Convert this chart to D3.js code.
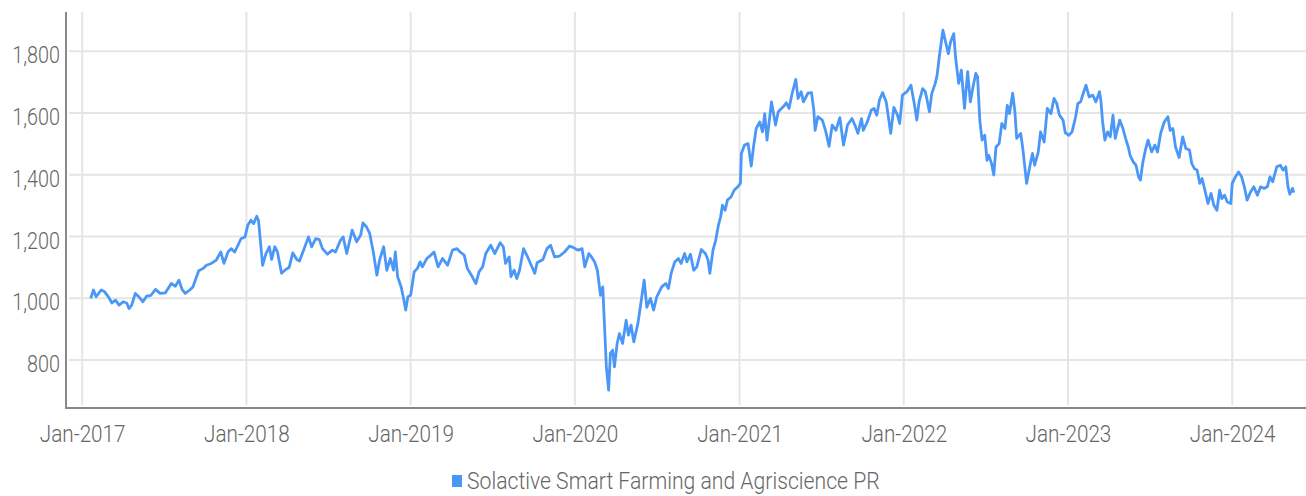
<!DOCTYPE html>
<html>
<head>
<meta charset="utf-8">
<script src="https://cdn.jsdelivr.net/npm/d3@7"></script>
<style>
  html, body { margin: 0; padding: 0; background: #fff; }
  svg { display: block; }
  text { font-family: Roboto, "Noto Sans", sans-serif; fill: #666; }
</style>
</head>
<body>
<svg id="chart" width="1306" height="496"></svg>
<script>
'use strict';

var seriesName = 'Solactive Smart Farming and Agriscience PR';

var series2017 = [
  ['2017-01-20', 1000], ['2017-01-26', 1027], ['2017-02-01', 1005], ['2017-02-12', 1027],
  ['2017-02-20', 1021], ['2017-03-01', 1003], ['2017-03-08', 985], ['2017-03-16', 994],
  ['2017-03-24', 978], ['2017-04-02', 989], ['2017-04-10', 985], ['2017-04-15', 967],
  ['2017-04-21', 978], ['2017-04-29', 1016], ['2017-05-07', 1005], ['2017-05-16', 989],
  ['2017-05-24', 1007], ['2017-06-03', 1010], ['2017-06-13', 1029], ['2017-06-23', 1016],
  ['2017-07-05', 1018], ['2017-07-18', 1048], ['2017-07-27', 1039], ['2017-08-04', 1059],
  ['2017-08-11', 1029], ['2017-08-18', 1016], ['2017-08-28', 1027], ['2017-09-04', 1037],
  ['2017-09-17', 1089], ['2017-09-27', 1097], ['2017-10-04', 1107], ['2017-10-15', 1113],
  ['2017-10-26', 1124], ['2017-11-05', 1150], ['2017-11-12', 1113], ['2017-11-21', 1150],
  ['2017-11-28', 1161], ['2017-12-06', 1150], ['2017-12-20', 1193], ['2017-12-29', 1199]
];

var series2018 = [
  ['2018-01-04', 1237], ['2018-01-11', 1253], ['2018-01-17', 1242], ['2018-01-24', 1266],
  ['2018-01-28', 1251], ['2018-02-06', 1107], ['2018-02-13', 1143], ['2018-02-21', 1167],
  ['2018-02-26', 1126], ['2018-03-05', 1167], ['2018-03-11', 1150], ['2018-03-20', 1081],
  ['2018-03-30', 1094], ['2018-04-06', 1100], ['2018-04-14', 1147], ['2018-04-23', 1126],
  ['2018-04-29', 1121], ['2018-05-08', 1156], ['2018-05-19', 1199], ['2018-05-26', 1167],
  ['2018-06-04', 1193], ['2018-06-12', 1190], ['2018-06-19', 1161], ['2018-06-30', 1143],
  ['2018-07-11', 1156], ['2018-07-18', 1150], ['2018-07-29', 1188], ['2018-08-04', 1199],
  ['2018-08-12', 1145], ['2018-08-24', 1221], ['2018-09-03', 1183], ['2018-09-12', 1205],
  ['2018-09-17', 1244], ['2018-09-25', 1231], ['2018-10-02', 1210], ['2018-10-10', 1150],
  ['2018-10-18', 1075], ['2018-10-24', 1124], ['2018-11-02', 1167], ['2018-11-09', 1091],
  ['2018-11-17', 1129], ['2018-11-24', 1091], ['2018-11-28', 1150], ['2018-12-03', 1070],
  ['2018-12-11', 1037], ['2018-12-17', 994], ['2018-12-21', 962], ['2018-12-26', 1005]
];

var series2019 = [
  ['2019-01-01', 1010], ['2019-01-09', 1086], ['2019-01-16', 1097], ['2019-01-22', 1118],
  ['2019-01-27', 1102], ['2019-02-06', 1129], ['2019-02-15', 1140], ['2019-02-22', 1150],
  ['2019-03-03', 1102], ['2019-03-13', 1129], ['2019-03-24', 1107], ['2019-04-04', 1156],
  ['2019-04-14', 1161], ['2019-04-21', 1150], ['2019-04-30', 1140], ['2019-05-07', 1097],
  ['2019-05-16', 1075], ['2019-05-26', 1048], ['2019-06-02', 1086], ['2019-06-10', 1102],
  ['2019-06-17', 1145], ['2019-06-28', 1172], ['2019-07-07', 1145], ['2019-07-19', 1180],
  ['2019-07-26', 1167], ['2019-07-31', 1113], ['2019-08-08', 1134], ['2019-08-12', 1070],
  ['2019-08-19', 1091], ['2019-08-25', 1064], ['2019-08-31', 1091], ['2019-09-09', 1161],
  ['2019-09-18', 1134], ['2019-09-26', 1107], ['2019-10-04', 1081], ['2019-10-09', 1115],
  ['2019-10-22', 1126], ['2019-10-31', 1161], ['2019-11-08', 1172], ['2019-11-17', 1134],
  ['2019-11-28', 1137], ['2019-12-09', 1150], ['2019-12-20', 1169], ['2019-12-28', 1165]
];

var series2020 = [
  ['2020-01-08', 1156], ['2020-01-17', 1161], ['2020-01-23', 1102], ['2020-02-01', 1145],
  ['2020-02-07', 1134], ['2020-02-14', 1118], ['2020-02-20', 1091], ['2020-02-27', 1010],
  ['2020-03-03', 1037], ['2020-03-07', 908], ['2020-03-11', 778], ['2020-03-16', 703],
  ['2020-03-20', 822], ['2020-03-25', 832], ['2020-03-29', 778], ['2020-04-04', 854],
  ['2020-04-09', 886], ['2020-04-16', 854], ['2020-04-24', 929], ['2020-04-29', 881],
  ['2020-05-05', 913], ['2020-05-11', 859], ['2020-05-20', 918], ['2020-05-25', 967],
  ['2020-06-03', 1059], ['2020-06-09', 971], ['2020-06-17', 1000], ['2020-06-24', 962],
  ['2020-07-01', 1005], ['2020-07-12', 1037], ['2020-07-21', 1048], ['2020-07-27', 1032],
  ['2020-08-02', 1081], ['2020-08-10', 1118], ['2020-08-18', 1129], ['2020-08-24', 1113],
  ['2020-09-01', 1145], ['2020-09-06', 1118], ['2020-09-14', 1143], ['2020-09-21', 1091],
  ['2020-09-28', 1102], ['2020-10-08', 1158], ['2020-10-17', 1145], ['2020-10-23', 1124],
  ['2020-10-27', 1081], ['2020-11-03', 1156], ['2020-11-09', 1188], ['2020-11-15', 1237],
  ['2020-11-20', 1264], ['2020-11-24', 1302], ['2020-11-30', 1285], ['2020-12-05', 1318],
  ['2020-12-13', 1328], ['2020-12-20', 1350], ['2020-12-28', 1361]
];

var series2021 = [
  ['2021-01-03', 1372], ['2021-01-05', 1469], ['2021-01-12', 1496], ['2021-01-20', 1501],
  ['2021-01-27', 1428], ['2021-02-01', 1490], ['2021-02-07', 1550], ['2021-02-15', 1571],
  ['2021-02-21', 1539], ['2021-02-26', 1598], ['2021-03-03', 1512], ['2021-03-13', 1636],
  ['2021-03-22', 1561], ['2021-03-28', 1604], ['2021-04-08', 1620], ['2021-04-15', 1633],
  ['2021-04-21', 1615], ['2021-04-28', 1664], ['2021-05-06', 1709], ['2021-05-11', 1647],
  ['2021-05-18', 1669], ['2021-05-23', 1636], ['2021-06-02', 1664], ['2021-06-10', 1666],
  ['2021-06-15', 1610], ['2021-06-18', 1544], ['2021-06-24', 1588], ['2021-07-04', 1577],
  ['2021-07-11', 1544], ['2021-07-19', 1492], ['2021-07-26', 1561], ['2021-08-03', 1544],
  ['2021-08-12', 1585], ['2021-08-20', 1496], ['2021-08-29', 1561], ['2021-09-08', 1582],
  ['2021-09-16', 1555], ['2021-09-21', 1534], ['2021-09-29', 1582], ['2021-10-03', 1544],
  ['2021-10-12', 1571], ['2021-10-21', 1610], ['2021-10-27', 1615], ['2021-11-02', 1593],
  ['2021-11-08', 1642], ['2021-11-15', 1666], ['2021-11-23', 1636], ['2021-12-03', 1534],
  ['2021-12-10', 1618], ['2021-12-18', 1593], ['2021-12-23', 1566], ['2021-12-29', 1658]
];

var series2022 = [
  ['2022-01-08', 1669], ['2022-01-17', 1690], ['2022-01-25', 1625], ['2022-01-30', 1577],
  ['2022-02-04', 1636], ['2022-02-12', 1679], ['2022-02-18', 1669], ['2022-02-27', 1604],
  ['2022-03-04', 1661], ['2022-03-12', 1696], ['2022-03-16', 1722], ['2022-03-21', 1782],
  ['2022-03-29', 1868], ['2022-04-04', 1830], ['2022-04-10', 1792], ['2022-04-15', 1830],
  ['2022-04-22', 1857], ['2022-04-26', 1782], ['2022-05-03', 1696], ['2022-05-09', 1739],
  ['2022-05-16', 1615], ['2022-05-23', 1734], ['2022-05-29', 1636], ['2022-06-04', 1685],
  ['2022-06-10', 1728], ['2022-06-14', 1717], ['2022-06-19', 1577], ['2022-06-24', 1512],
  ['2022-06-30', 1528], ['2022-07-05', 1447], ['2022-07-09', 1463], ['2022-07-15', 1437],
  ['2022-07-20', 1399], ['2022-07-25', 1490], ['2022-08-01', 1501], ['2022-08-07', 1566],
  ['2022-08-14', 1550], ['2022-08-19', 1625], ['2022-08-24', 1598], ['2022-08-31', 1664],
  ['2022-09-05', 1604], ['2022-09-09', 1518], ['2022-09-18', 1534], ['2022-09-23', 1480],
  ['2022-10-01', 1372], ['2022-10-08', 1426], ['2022-10-14', 1469], ['2022-10-19', 1431],
  ['2022-10-27', 1474], ['2022-11-01', 1539], ['2022-11-09', 1506], ['2022-11-16', 1615],
  ['2022-11-24', 1598], ['2022-12-01', 1647], ['2022-12-07', 1631], ['2022-12-13', 1593],
  ['2022-12-21', 1577], ['2022-12-26', 1536]
];

var series2023 = [
  ['2023-01-03', 1528], ['2023-01-10', 1539], ['2023-01-18', 1588], ['2023-01-23', 1631],
  ['2023-01-29', 1636], ['2023-02-04', 1664], ['2023-02-10', 1690], ['2023-02-17', 1652],
  ['2023-02-25', 1658], ['2023-03-04', 1636], ['2023-03-12', 1669], ['2023-03-15', 1642],
  ['2023-03-19', 1571], ['2023-03-24', 1512], ['2023-03-30', 1539], ['2023-04-05', 1523],
  ['2023-04-11', 1593], ['2023-04-16', 1518], ['2023-04-26', 1577], ['2023-05-03', 1550],
  ['2023-05-09', 1518], ['2023-05-15', 1490], ['2023-05-19', 1463], ['2023-05-26', 1442],
  ['2023-06-01', 1431], ['2023-06-07', 1393], ['2023-06-11', 1383], ['2023-06-16', 1437],
  ['2023-06-22', 1480], ['2023-06-28', 1512], ['2023-07-06', 1474], ['2023-07-13', 1496],
  ['2023-07-19', 1474], ['2023-07-26', 1534], ['2023-08-03', 1571], ['2023-08-11', 1588],
  ['2023-08-16', 1544], ['2023-08-22', 1550], ['2023-08-28', 1490], ['2023-09-05', 1456],
  ['2023-09-13', 1523], ['2023-09-20', 1485], ['2023-09-28', 1480], ['2023-10-03', 1437],
  ['2023-10-09', 1420], ['2023-10-15', 1415], ['2023-10-21', 1372], ['2023-10-26', 1388],
  ['2023-11-03', 1340], ['2023-11-08', 1307], ['2023-11-15', 1340], ['2023-11-21', 1302],
  ['2023-11-28', 1285], ['2023-12-04', 1350], ['2023-12-09', 1323], ['2023-12-15', 1334],
  ['2023-12-21', 1312], ['2023-12-29', 1307]
];

var series2024 = [
  ['2024-01-01', 1372], ['2024-01-08', 1393], ['2024-01-15', 1409], ['2024-01-22', 1393],
  ['2024-01-28', 1361], ['2024-02-03', 1318], ['2024-02-11', 1345], ['2024-02-18', 1361],
  ['2024-02-26', 1334], ['2024-03-04', 1361], ['2024-03-12', 1356], ['2024-03-19', 1361],
  ['2024-03-25', 1393], ['2024-03-31', 1377], ['2024-04-09', 1426], ['2024-04-17', 1431],
  ['2024-04-23', 1415], ['2024-04-29', 1426], ['2024-05-04', 1361], ['2024-05-08', 1337],
  ['2024-05-14', 1356], ['2024-05-17', 1342]
];

var yTicks = [800, 1000, 1200, 1400, 1600, 1800];
var xTicks = ['2017-01-01', '2018-01-01', '2019-01-01', '2020-01-01',
              '2021-01-01', '2022-01-01', '2023-01-01', '2024-01-01'];

var parse = d3.timeParse('%Y-%m-%d');
var data = [].concat(series2017, series2018, series2019, series2020,
                     series2021, series2022, series2023, series2024)
  .map(function (d) { return { date: parse(d[0]), value: d[1] }; });

var svg = d3.select('#chart');

var x = d3.scaleTime()
  .domain([parse('2016-11-26'), parse('2024-06-13')])
  .range([66, 1306]);

var y = d3.scaleLinear()
  .domain([645, 1927])
  .range([408, 12]);

var fontSize = 23;
var textColor = '#6a6a6a';
var lineColor = '#4b97f8';

// the original face is a narrow one, so squeeze the glyphs a bit
function narrow(factor) {
  return function (sel) {
    sel.each(function () {
      var w = this.getComputedTextLength();
      d3.select(this)
        .attr('textLength', w * factor)
        .attr('lengthAdjust', 'spacingAndGlyphs');
    });
  };
}

// grid
svg.append('g').attr('class', 'grid-y')
  .selectAll('line').data(yTicks).enter().append('line')
  .attr('x1', 69).attr('x2', 1306)
  .attr('y1', function (d) { return y(d); })
  .attr('y2', function (d) { return y(d); })
  .attr('stroke', '#e5e5e5').attr('stroke-width', 2);

svg.append('g').attr('class', 'grid-x')
  .selectAll('line').data(xTicks.map(parse)).enter().append('line')
  .attr('x1', function (d) { return x(d); })
  .attr('x2', function (d) { return x(d); })
  .attr('y1', 12).attr('y2', 405)
  .attr('stroke', '#e5e5e5').attr('stroke-width', 2);

// series
var line = d3.line()
  .x(function (d) { return x(d.date); })
  .y(function (d) { return y(d.value); });

svg.append('path')
  .datum(data)
  .attr('d', line)
  .attr('fill', 'none')
  .attr('stroke', lineColor)
  .attr('stroke-width', 2.8)
  .attr('stroke-linejoin', 'round');

// axes
var yAxis = d3.axisLeft(y).tickValues(yTicks).tickSize(0).tickPadding(6)
  .tickFormat(d3.format(','));
var gy = svg.append('g').attr('transform', 'translate(66,0)').call(yAxis);
gy.select('.domain').remove();
gy.selectAll('text')
  .attr('font-family', 'Roboto, sans-serif')
  .attr('font-size', fontSize)
  .attr('font-weight', 300)
  .attr('fill', textColor)
  .attr('dy', '0.5em')
  .call(narrow(0.86));

var xAxis = d3.axisBottom(x).tickValues(xTicks.map(parse)).tickSize(0).tickPadding(18)
  .tickFormat(d3.timeFormat('%b-%Y'));
var gx = svg.append('g').attr('transform', 'translate(0,408)').call(xAxis);
gx.select('.domain').remove();
gx.selectAll('text')
  .attr('font-family', 'Roboto, sans-serif')
  .attr('font-size', fontSize)
  .attr('font-weight', 300)
  .attr('fill', textColor)
  .call(narrow(0.9));

svg.append('line')
  .attr('x1', 66).attr('x2', 66).attr('y1', 12).attr('y2', 409)
  .attr('stroke', '#888').attr('stroke-width', 2);
svg.append('line')
  .attr('x1', 66).attr('x2', 1306).attr('y1', 408).attr('y2', 408)
  .attr('stroke', '#888').attr('stroke-width', 2);

// legend
var legend = svg.append('g').attr('transform', 'translate(452,475)');
legend.append('rect')
  .attr('width', 10).attr('height', 12)
  .attr('fill', lineColor);
legend.append('text')
  .attr('x', 15).attr('y', 6).attr('dy', '0.36em')
  .attr('font-size', fontSize)
  .attr('font-weight', 300)
  .attr('fill', textColor)
  .text(seriesName)
  .call(narrow(0.92));
</script>
</body>
</html>
